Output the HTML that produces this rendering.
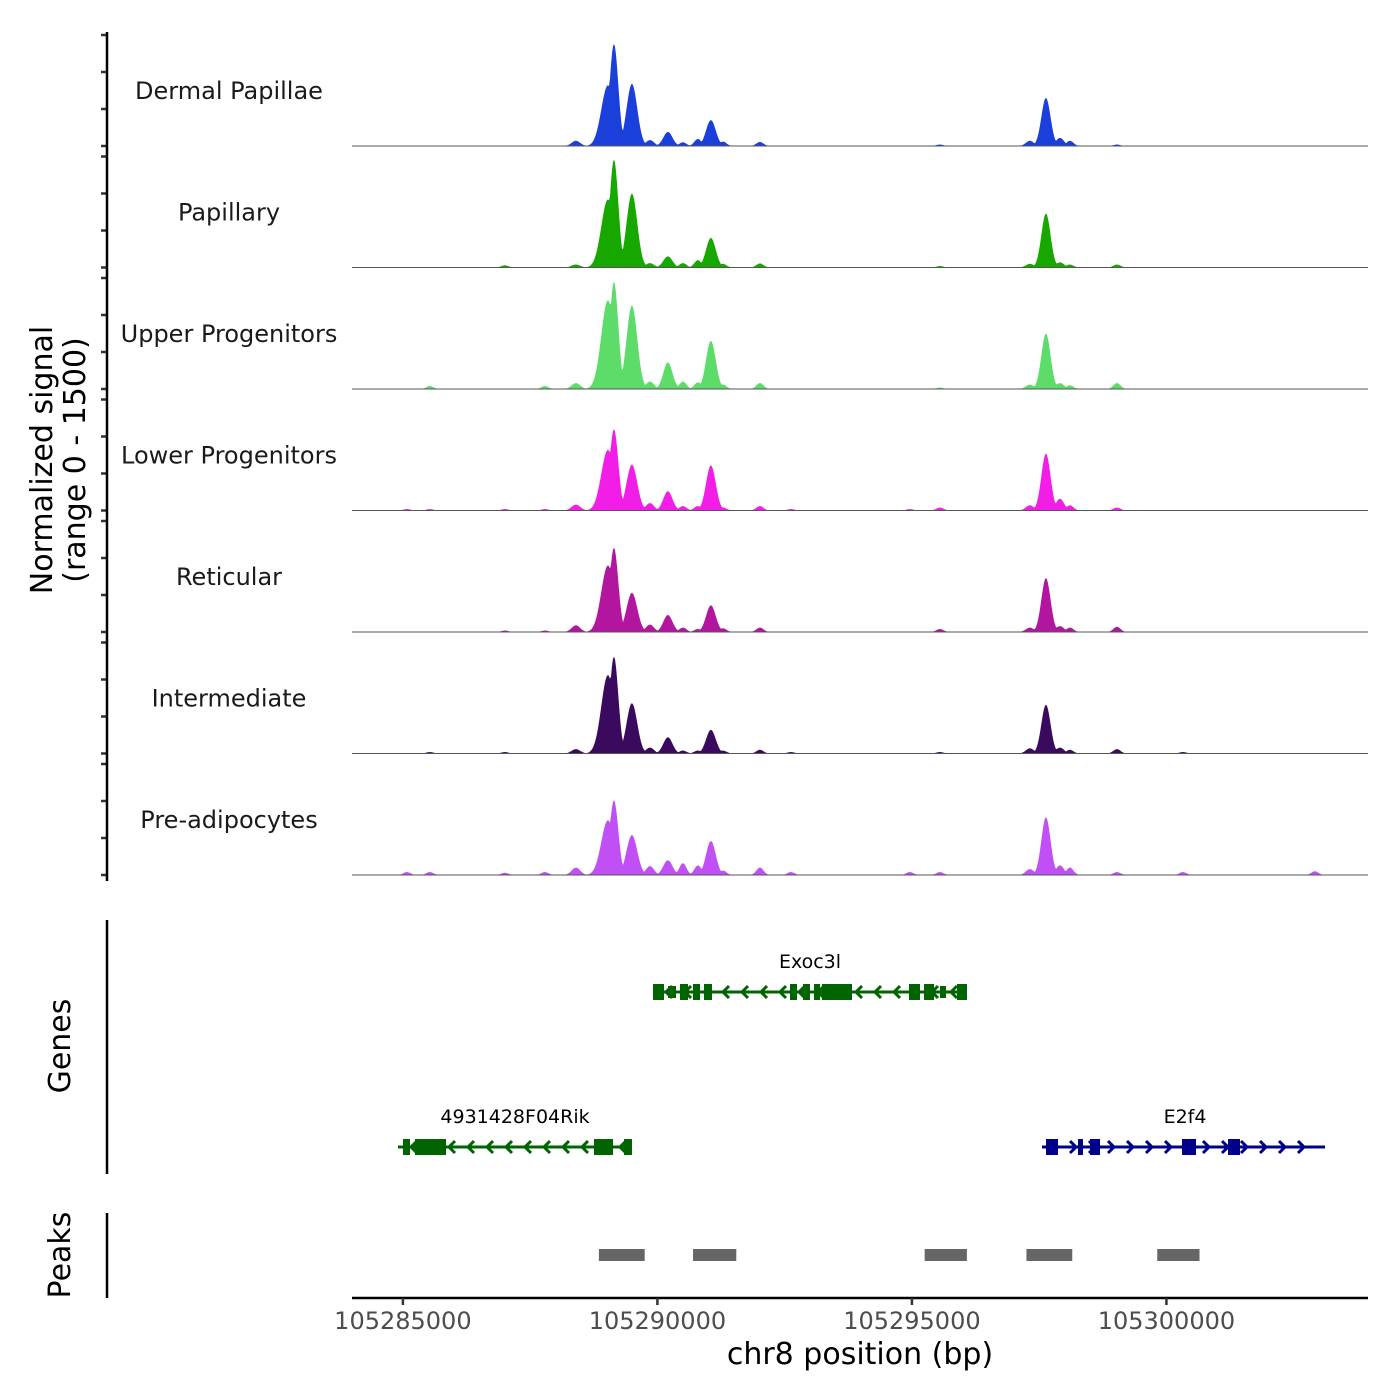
<!DOCTYPE html>
<html><head><meta charset="utf-8"><style>
html,body{margin:0;padding:0;background:#fff;}
svg{display:block;font-family:"DejaVu Sans","Liberation Sans",sans-serif;}
</style></head><body>
<svg id="chart" width="1400" height="1400" viewBox="0 0 1400 1400" xmlns="http://www.w3.org/2000/svg">
<g id="tracks"></g>
<g id="genes"></g>
<g id="peaks"></g>
<g id="axes"></g>
</svg>
<script>
const cellTypes = ["Dermal Papillae","Papillary","Upper Progenitors","Lower Progenitors","Reticular","Intermediate","Pre-adipocytes"];
const trackColors = ["#1a3fdb","#17a800","#5ddc6a","#f21ee8","#b2169f","#3a0a5e","#c050f5"];
const peakCenters = [105285079,105285530,105287004,105287790,105288399,105289028,105289146,105289499,105289853,105290206,105290501,105290795,105291051,105291287,105292014,105292623,105294960,105295550,105297318,105297633,105297908,105298104,105299028,105300324,105302917];
const peakWidths  = [70,70,70,70,85,130,85,105,80,90,70,70,95,70,70,70,70,70,80,90,80,70,70,70,70];
const hDP  = [0,0,0,0,70,820,1380,840,80,190,50,95,350,60,55,0,0,20,70,650,110,70,20,0,0];
const hPap = [0,0,30,0,40,920,1460,1000,60,150,60,100,400,50,55,0,0,20,50,730,70,40,40,0,0];
const hUP  = [0,40,0,40,80,1200,1450,1130,100,360,100,90,650,60,80,0,0,20,60,750,80,50,80,0,0];
const hLP  = [20,20,20,20,80,820,1100,620,100,260,60,60,610,40,60,20,20,40,70,770,160,70,40,0,0];
const hRet = [0,0,20,20,90,900,1140,530,100,230,60,40,360,50,60,0,0,40,60,730,80,60,70,0,0];
const hInt = [0,20,20,0,60,1060,1310,680,80,220,40,40,320,40,50,20,0,20,70,660,80,50,60,20,0];
const hPre = [40,40,30,40,100,740,1010,540,120,200,160,130,460,60,100,40,40,40,80,780,130,100,40,40,50];
const heights = [hDP,hPap,hUP,hLP,hRet,hInt,hPre];
const xTicks = [105285000,105290000,105295000,105300000];
const yTicks = [0,500,1000,1500];
const peakStarts = [105288850,105290700,105295250,105297250,105299820];
const peakEnds   = [105289750,105291550,105296080,105298150,105300650];

const NS="http://www.w3.org/2000/svg";
const X0=352,X1=1368,BP0=105284000,BP1=105303960;
const xs=bp=>X0+(bp-BP0)*(X1-X0)/(BP1-BP0);
function el(tag,attrs,parent,text){const e=document.createElementNS(NS,tag);for(const k in attrs)e.setAttribute(k,attrs[k]);if(text!==undefined)e.textContent=text;parent.appendChild(e);return e;}

const tracks=document.getElementById('tracks');
const axes=document.getElementById('axes');
const base0=146,step=121.5,yScale=111/1500;
cellTypes.forEach((name,k)=>{
  const base=base0+step*k;
  const hs=heights[k];
  let d=`M${X0},${base}`;
  for(let px=X0;px<=X1;px+=1){
    const bp=BP0+(px-X0)*(BP1-BP0)/(X1-X0);
    let v=0;
    peakCenters.forEach((c,i)=>{const z=(bp-c)/peakWidths[i];v=Math.max(v,hs[i]*Math.exp(-0.5*z*z));});
    d+=`L${px},${(base-Math.min(v,1500)*yScale).toFixed(1)}`;
  }
  d+=`L${X1},${base}Z`;
  const p=el('path',{d:d,fill:trackColors[k]},tracks);
  
  
  const bl=el('line',{x1:X0,x2:X1,y1:base,y2:base,stroke:'#555','stroke-width':1},tracks);
  
  
  const t=el('text',{x:229,y:base-47,'font-size':24,'text-anchor':'middle',fill:'#1a1a1a'},tracks,name);
  
  
  yTicks.forEach(v=>{
    const tk=el('line',{x1:101,x2:107,y1:base-v*yScale,y2:base-v*yScale,stroke:'#333','stroke-width':2.5},axes);
    
    
  });
});
el('line',{x1:107,x2:107,y1:32,y2:881,stroke:'#000','stroke-width':2.5},axes);
const yt=el('text',{transform:'translate(52,460) rotate(-90)','font-size':30,'text-anchor':'middle',fill:'#000'},axes);


el('tspan',{x:0,dy:0},yt,'Normalized signal');
el('tspan',{x:0,dy:33},yt,'(range 0 - 1500)');

// genes
const genes=document.getElementById('genes');
function gene(name,start,end,y,color,dir,exons,labelX){
  const g=el('g',{},genes);
  
  
  el('line',{x1:start,x2:end,y1:y,y2:y,stroke:color,'stroke-width':3},g);
  for(let x=start+14;x<end-6;x+=19){
    const a=dir<0?`M${x+5},${y-6}L${x-1},${y}L${x+5},${y+6}`:`M${x-5},${y-6}L${x+1},${y}L${x-5},${y+6}`;
    el('path',{d:a,stroke:color,'stroke-width':3,fill:'none'},g);
  }
  exons.forEach(e=>el('rect',{x:e[0],y:y-e[2]/2,width:e[1]-e[0],height:e[2],fill:color},g));
  el('text',{x:labelX,y:y-24,'font-size':19,'text-anchor':'middle',fill:'#000'},g,name);
}
gene('Exoc3l',653,967,992,'#006400',-1,[[653,664,16],[668,676,12],[680,688,16],[693,700,16],[704,712,16],[790,797,16],[803,810,16],[814,820,16],[822,852,16],[909,920,16],[924,934,16],[940,946,12],[957,967,16]],810);
gene('4931428F04Rik',398,632,1147,'#006400',-1,[[403,410,16],[415,446,16],[594,613,16],[624,632,16]],515);
gene('E2f4',1042,1325,1147,'#00008b',1,[[1046,1058,16],[1078,1083,16],[1090,1100,16],[1182,1196,16],[1228,1240,16]],1185);
el('line',{x1:107,x2:107,y1:920,y2:1174,stroke:'#000','stroke-width':2.5},axes);
el('text',{transform:'translate(70,1046) rotate(-90)','font-size':30,'text-anchor':'middle'},axes,'Genes');

// peaks
const peaks=document.getElementById('peaks');
peakStarts.forEach((s,i)=>{
  const r=el('rect',{x:xs(s),y:1249,width:xs(peakEnds[i])-xs(s),height:12,fill:'#666'},peaks);
  
  
});
el('line',{x1:107,x2:107,y1:1213,y2:1298,stroke:'#000','stroke-width':2.5},axes);
el('text',{transform:'translate(70,1255) rotate(-90)','font-size':30,'text-anchor':'middle'},axes,'Peaks');

// x axis
el('line',{x1:X0,x2:X1,y1:1298,y2:1298,stroke:'#000','stroke-width':2.5},axes);
xTicks.forEach(v=>{
  const x=xs(v);
  const tk=el('line',{x1:x,x2:x,y1:1298,y2:1305,stroke:'#333','stroke-width':2.5},axes);
  
  
  const tl=el('text',{x:x,y:1329,'font-size':24,'text-anchor':'middle',fill:'#4d4d4d'},axes,String(v));
  
  
});
const xt=el('text',{x:860,y:1364,'font-size':30,'text-anchor':'middle',fill:'#000'},axes,'chr8 position (bp)');


</script>
</body></html>
